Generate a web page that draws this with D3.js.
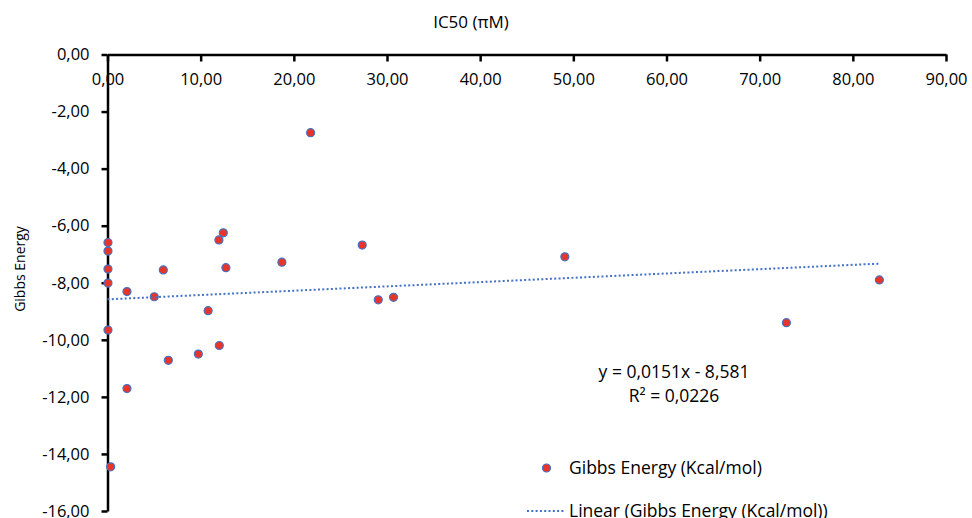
<!DOCTYPE html>
<html>
<head>
<meta charset="utf-8">
<script src="https://cdn.jsdelivr.net/npm/d3@7"></script>
<style>
  body { margin: 0; background: #fff; }
  text { font-family: "Open Sans", sans-serif; fill: #000; }
</style>
</head>
<body>
<script>
// IC50 values (x) and Gibbs energy values (y)
var ic50 = [0.05, 0.05, 0.05, 0.05, 0.05, 0.34, 2.09, 2.09, 5.02, 5.99, 6.53, 9.75,
            10.8, 11.96, 12.43, 12.0, 12.71, 18.72, 21.8, 27.34, 29.06, 30.7, 49.09, 72.87, 82.85];
var gibbs = [-6.59, -6.89, -7.52, -8.01, -9.66, -14.45, -8.31, -11.71, -8.49, -7.55, -10.72, -10.5,
             -8.98, -6.5, -6.25, -10.2, -7.47, -7.28, -2.74, -6.68, -8.6, -8.51, -7.09, -9.4, -7.9];
var xTicks = [0, 10, 20, 30, 40, 50, 60, 70, 80, 90];
var yTicks = [0, -2, -4, -6, -8, -10, -12, -14, -16];
var trend = [0.0151, -8.581]; // slope, intercept
var eqLines = ["y = 0,0151x - 8,581", "R² = 0,0226"];
var legendNames = ["Gibbs Energy (Kcal/mol)", "Linear (Gibbs Energy (Kcal/mol))"];

var width = 972, height = 518;
var red = "#e8352b", blue = "#4472c4";

var svg = d3.select("body").append("svg")
            .attr("width", width)
            .attr("height", height);

var x = d3.scaleLinear().domain([0, 90]).range([107.5, 946]);
var y = d3.scaleLinear().domain([-16, 0]).range([511, 54.5]);

// comma decimals and a plain hyphen for the minus sign
var fmt = d3.formatLocale({decimal: ",", thousands: ".", grouping: [3], currency: ["", ""], minus: "-"}).format(".2f");

// x axis sits at y = 0 (top), ticks point down into the plot
var gx = svg.append("g")
            .attr("transform", "translate(0," + y(0) + ")")
            .call(d3.axisBottom(x).tickValues(xTicks).tickFormat(fmt)
                    .tickSize(7).tickSizeOuter(0).tickPadding(12));
var gy = svg.append("g")
            .attr("transform", "translate(" + x(0) + ",0)")
            .call(d3.axisLeft(y).tickValues(yTicks).tickFormat(fmt)
                    .tickSize(6).tickSizeOuter(0).tickPadding(12));

[gx, gy].forEach(function(g) {
    g.select(".domain").attr("stroke", "#000").attr("stroke-width", 2.5);
    g.selectAll(".tick line").attr("stroke", "#000").attr("stroke-width", 2.5);
    g.selectAll(".tick text").attr("font-family", "Open Sans").attr("font-size", 16.5).attr("fill", "#000");
});

// axis titles
svg.append("text")
   .attr("x", 471).attr("y", 28)
   .attr("text-anchor", "middle")
   .attr("font-size", 17)
   .text("IC50 (\u03c0M)");

svg.append("text")
   .attr("transform", "translate(25,269) rotate(-90)")
   .attr("text-anchor", "middle")
   .attr("font-size", 14)
   .text("Gibbs Energy");

// points
svg.append("g").selectAll("circle")
   .data(ic50)
   .enter()
   .append("circle")
   .attr("cx", function(d) { return x(d); })
   .attr("cy", function(d, i) { return y(gibbs[i]); })
   .attr("r", 4)
   .attr("fill", red)
   .attr("stroke", blue)
   .attr("stroke-width", 1.2);

// linear trendline over the data range
var xMax = d3.max(ic50);
var line = d3.line()
             .x(function(d) { return x(d); })
             .y(function(d) { return y(trend[0] * d + trend[1]); });
svg.append("path")
   .attr("d", line([0, xMax]))
   .attr("fill", "none")
   .attr("stroke", blue)
   .attr("stroke-width", 2)
   .attr("stroke-dasharray", "2,2.3");

// equation
svg.selectAll(".eq")
   .data(eqLines)
   .enter()
   .append("text")
   .attr("class", "eq")
   .attr("x", 674)
   .attr("y", function(d, i) { return 378 + i * 24; })
   .attr("text-anchor", "middle")
   .attr("font-size", 17.5)
   .text(function(d) { return d; });

// legend
var lg = svg.append("g");
lg.append("circle")
  .attr("cx", 546.5).attr("cy", 468).attr("r", 4)
  .attr("fill", red).attr("stroke", blue).attr("stroke-width", 1.2);
lg.append("line")
  .attr("x1", 527).attr("x2", 564).attr("y1", 511).attr("y2", 511)
  .attr("stroke", blue).attr("stroke-width", 2).attr("stroke-dasharray", "2,2.3");
lg.selectAll("text")
  .data(legendNames)
  .enter()
  .append("text")
  .attr("x", 569)
  .attr("y", function(d, i) { return 474 + i * 43; })
  .attr("font-size", 17.5)
  .text(function(d) { return d; });
</script>
</body>
</html>
